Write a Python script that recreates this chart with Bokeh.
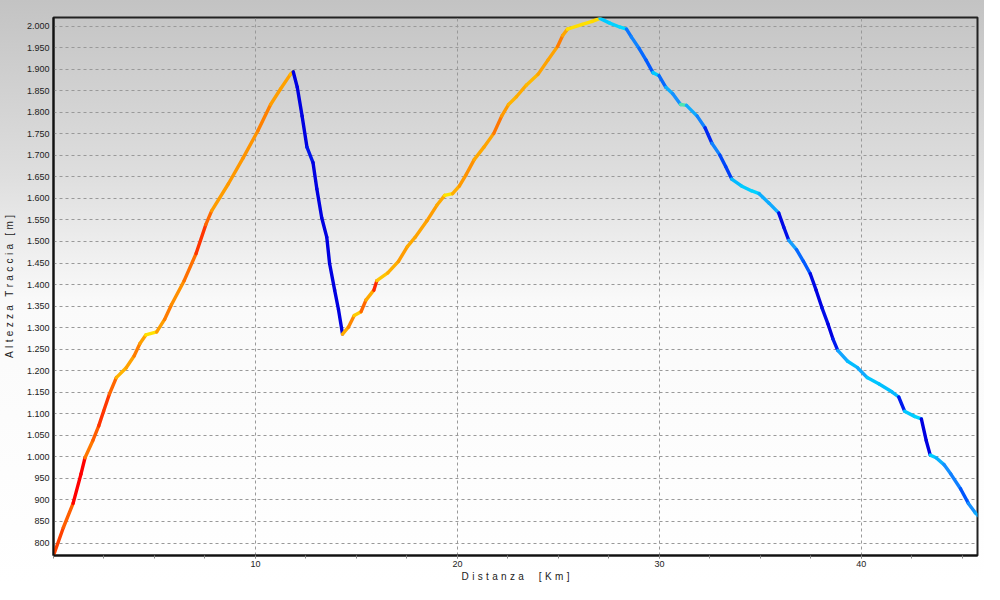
from bokeh.plotting import figure
from bokeh.models import Range1d, FixedTicker, CustomJSTickFormatter, ColumnDataSource
from bokeh.embed import file_html
from bokeh.resources import INLINE

# ---- data (distance in km, altitude in m) ----
dist_km = [0.00, 0.49, 0.97, 1.36, 1.56, 1.95, 2.24, 2.48, 2.77, 3.11, 3.60, 3.99, 4.28, 4.57,
           5.11, 5.50, 5.84, 6.47, 7.06, 7.54, 7.83, 8.66, 9.39, 10.12, 10.75, 11.24, 11.73, 11.87,
           12.07, 12.31, 12.55, 12.85, 13.04, 13.28, 13.53, 13.67, 13.92, 14.11, 14.31,
           14.60, 14.89, 15.23, 15.47, 15.86, 16.01, 16.55, 17.08, 17.52, 17.91, 18.49, 18.98,
           19.37, 19.76, 20.10, 20.44, 20.83, 21.31, 21.80, 22.19, 22.53, 22.92, 23.41, 23.99,
           24.48, 24.96, 25.21, 25.45, 26.18, 26.67, 27.06,
           27.54, 28.03, 28.37, 28.61, 29.00, 29.34, 29.68, 29.98, 30.32, 30.66, 31.05, 31.34,
           31.87, 32.26, 32.60, 32.99, 33.28, 33.58, 34.06, 34.55, 34.94, 35.43, 35.91, 36.16,
           36.40, 36.79, 37.13, 37.47, 37.76, 38.05, 38.35, 38.59, 38.83, 39.32, 39.81, 40.29,
           40.88, 41.51, 41.85, 42.14, 42.63, 42.97, 43.21, 43.41, 43.70, 44.09, 44.43, 44.91,
           45.30, 45.64, 45.79]
alt_m = [771, 836, 892, 960, 998, 1038, 1072, 1106, 1146, 1184, 1207, 1234, 1263, 1283,
         1290, 1319, 1353, 1409, 1472, 1539, 1571, 1634, 1694, 1757, 1818, 1854, 1888, 1894,
         1858, 1791, 1719, 1683, 1622, 1555, 1510, 1449, 1387, 1342, 1285,
         1301, 1328, 1337, 1364, 1387, 1409, 1427, 1454, 1488, 1510, 1548, 1584,
         1607, 1611, 1629, 1656, 1690, 1719, 1751, 1791, 1818, 1836, 1863, 1888,
         1921, 1953, 1978, 1993, 2004, 2011, 2018,
         2007, 1998, 1993, 1975, 1948, 1921, 1892, 1885, 1858, 1843, 1818, 1816,
         1791, 1764, 1728, 1701, 1674, 1645, 1629, 1618, 1611, 1589, 1566, 1533,
         1503, 1481, 1454, 1425, 1387, 1346, 1308, 1274, 1247, 1222, 1207, 1184,
         1169, 1151, 1139, 1106, 1094, 1088, 1038, 1004, 998, 982, 960, 926,
         892, 870, 863]

y_ticks = list(range(800, 2001, 50))
x_ticks = [10, 20, 30, 40]
x_minor = [i * 2.5 for i in range(19)]

# ---- slope (%) -> colour (style) ----
stops = [(-14, (0, 0, 225)), (-11, (0, 30, 240)), (-8.5, (0, 90, 255)), (-6, (25, 155, 255)),
         (-3, (0, 190, 255)), (-1, (0, 225, 255)), (0, (255, 235, 0)), (1, (255, 230, 0)),
         (3, (255, 200, 0)), (5, (255, 175, 0)), (8.5, (255, 150, 0)), (10.5, (255, 115, 0)),
         (13, (255, 70, 0)), (17, (255, 0, 0))]


def slope_color(s):
    if s <= stops[0][0]:
        c = stops[0][1]
    elif s >= stops[-1][0]:
        c = stops[-1][1]
    else:
        for (s0, c0), (s1, c1) in zip(stops[:-1], stops[1:]):
            if s0 <= s <= s1:
                t = (s - s0) / (s1 - s0)
                c = tuple(int(round(a + (b - a) * t)) for a, b in zip(c0, c1))
                break
    return "#%02x%02x%02x" % c


x0 = dist_km[:-1]
x1 = dist_km[1:]
y0 = alt_m[:-1]
y1 = alt_m[1:]
cols = [slope_color((b - a) / ((d - c) * 1000.0) * 100.0) for a, b, c, d in zip(y0, y1, x0, x1)]
src = ColumnDataSource(dict(x0=x0, x1=x1, y0=y0, y1=y1, color=cols))

W, H = 984, 584
p = figure(width=W, height=H, output_backend="svg", toolbar_location=None,
           x_range=Range1d(0, 45.75), y_range=Range1d(771, 2020),
           min_border_left=51, min_border_right=7, min_border_top=17, min_border_bottom=25)
p.border_fill_color = None
p.background_fill_color = None
p.styles = {"background": "linear-gradient(to bottom, #c3c3c3 0%, #dedede 30%, #fafafa 52%, #ffffff 100%)"}
p.outline_line_color = "#222222"
p.outline_line_width = 2

p.segment("x0", "y0", "x1", "y1", source=src, line_color="color", line_width=3.4, line_cap="round")

# axes
p.xaxis.ticker = FixedTicker(ticks=x_ticks, minor_ticks=x_minor)
p.yaxis.ticker = FixedTicker(ticks=y_ticks)
p.yaxis.formatter = CustomJSTickFormatter(code="""
    if (tick >= 1000) { return Math.floor(tick/1000) + "." + String(tick % 1000).padStart(3, "0"); }
    return String(tick);
""")
for ax in (p.xaxis[0], p.yaxis[0]):
    ax.axis_line_color = "#111111"
    ax.axis_line_width = 2
    ax.major_label_text_font = "Liberation Sans"
    ax.major_label_text_font_size = "9px"
    ax.major_label_text_color = "#222222"
    ax.axis_label_text_font = "Liberation Sans"
    ax.axis_label_text_font_size = "10px"
    ax.axis_label_text_font_style = "normal"
    ax.axis_label_text_color = "#222222"
    ax.major_tick_line_color = "#888888"
    ax.minor_tick_line_color = "#888888"

G = "\u2004"
p.xaxis.major_tick_out = 3
p.xaxis.major_tick_in = 0
p.xaxis.minor_tick_out = 3
p.xaxis.minor_tick_in = 0
p.xaxis.major_label_standoff = 2
p.xaxis.axis_label = G.join("Distanza") + "\u2002\u2002\u2002" + G.join("[Km]")
p.xaxis.axis_label_standoff = 1

p.yaxis.major_tick_out = 0
p.yaxis.major_tick_in = 0
p.yaxis.minor_tick_line_color = None
p.yaxis.major_label_standoff = 4
p.yaxis.axis_label = G.join("Altezza") + "\u2002\u2004" + G.join("Traccia") + "\u2002\u2004" + G.join("[m]")
p.yaxis.axis_label_standoff = 9

p.xgrid.ticker = FixedTicker(ticks=x_ticks)
p.ygrid.ticker = FixedTicker(ticks=y_ticks)
for g in (p.xgrid[0], p.ygrid[0]):
    g.grid_line_color = "#999999"
    g.grid_line_dash = "3 3"
    g.grid_line_width = 1

open("out.html", "w").write(file_html(p, INLINE))
